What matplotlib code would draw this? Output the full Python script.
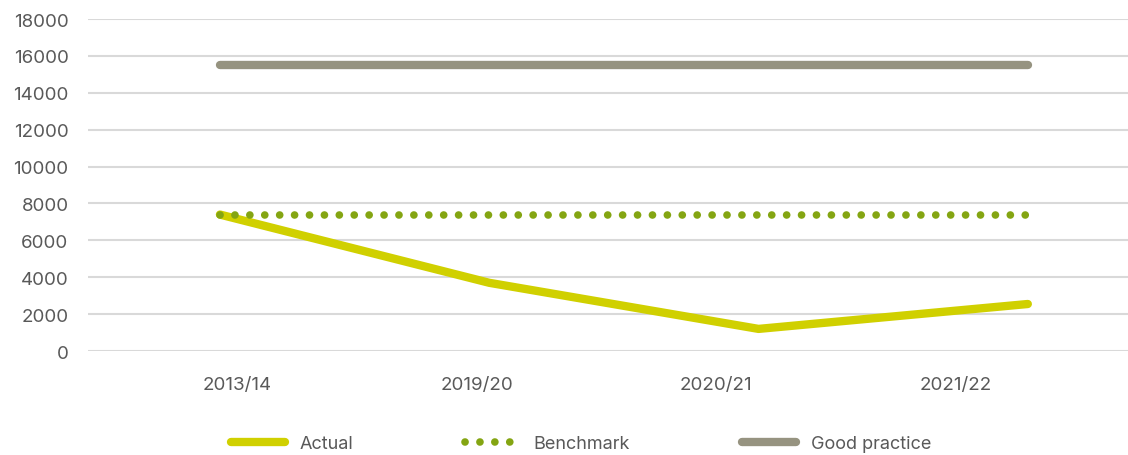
import numpy as np
import matplotlib
matplotlib.use("Agg")
import matplotlib.pyplot as plt

plt.rcParams['font.family'] = ['Inter', 'DejaVu Sans']

years = ['2013/14', '2019/20', '2020/21', '2021/22']
actual = [7400, 3700, 1200, 2550]
benchmark = [7400, 7400, 7400, 7400]
good_practice = [15500, 15500, 15500, 15500]

x = np.arange(len(years))

fig = plt.figure(figsize=(11.28, 4.56), dpi=100)
ax = fig.add_axes([0.078, 0.228, 0.922, 0.728])

ax.plot(x, actual, color='#d0d000', lw=6, solid_capstyle='round',
        solid_joinstyle='round', label='Actual', zorder=3)
ax.plot(x, benchmark, color='#84a512', lw=5.5, linestyle=(0, (0.01, 1.942)),
        dash_capstyle='round', label='Benchmark', zorder=4)
ax.plot(x, good_practice, color='#969380', lw=6, solid_capstyle='round',
        label='Good practice', zorder=3)

ax.set_xlim(-0.49, 3.372)
ax.set_ylim(0, 18000)
ax.set_yticks(range(0, 18001, 2000))
# the category labels sit a bit left of the points in the original
ax.set_xticks(x * 0.889 + 0.065)
ax.set_xticklabels(years)

ax.grid(axis='y', color='#d9d9d9', lw=1.5)
ax.set_axisbelow(True)
for s in ax.spines.values():
    s.set_visible(False)
ax.tick_params(axis='both', length=0, labelsize=13.5, labelcolor='#595959')
ax.tick_params(axis='x', pad=18)
ax.tick_params(axis='y', pad=14)

fig.legend(loc='center', bbox_to_anchor=(0.515, 0.025), ncol=3, frameon=False,
           fontsize=13, labelcolor='#595959', handlelength=3.0,
           columnspacing=6.2, handletextpad=0.8)

fig.savefig('out.png', dpi=100)
